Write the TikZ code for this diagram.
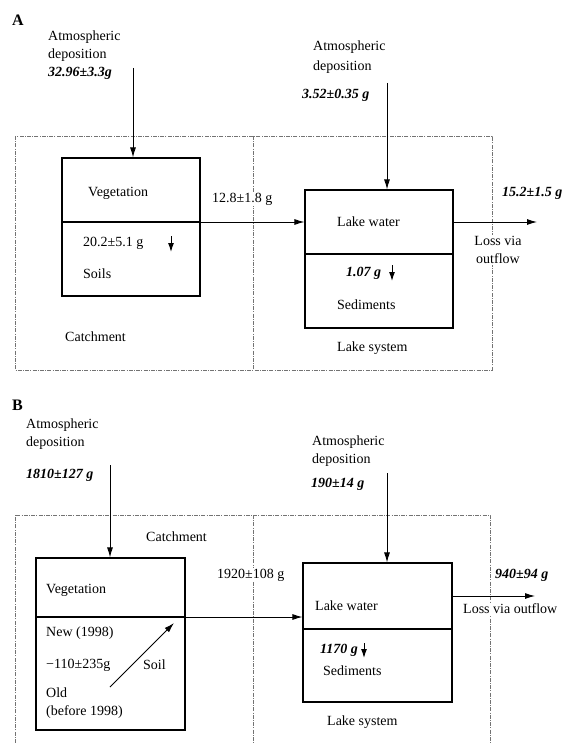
\documentclass[tikz,border=0pt]{standalone}
\usepackage{fontspec}
\setmainfont{Liberation Serif}
\usetikzlibrary{arrows.meta,positioning}

\tikzset{
  txt/.style={anchor=west, inner sep=0pt, align=left,
    font=\fontsize{14}{18}\selectfont},
  val/.style={txt, font=\fontsize{14}{18}\selectfont\bfseries\itshape},
  panel/.style={anchor=west, inner sep=0pt, font=\fontsize{16}{18}\selectfont\bfseries},
  pool/.style={draw, line width=1.1pt, inner sep=0pt},
  flow/.style={-{Latex[length=10pt,width=6pt]}, line width=0.9pt},
  sink/.style={-{Latex[length=9pt,width=6pt]}, line width=1pt},
  bound/.style={black!55, line width=0.5pt, dash pattern=on 4pt off 1.2pt on 1pt off 1.2pt},
  mask/.style={fill=white, inner sep=1pt}
}

\begin{document}
\begin{tikzpicture}[x=1pt, y=-1pt]
  \useasboundingbox (0,0) rectangle (568,743);

  % ---------- A ----------
  \draw[bound] (15,136) rectangle (492,370);
  \draw[bound] (253,136) -- (253,370);
  \node[panel] (labA) at (12,20) {A};

  \node[pool, minimum width=138, minimum height=138] (vegA) at (131,227) {};
  \node[pool, minimum width=148, minimum height=138] (lakeA) at (379,259) {};
  \coordinate (divA) at (0,222);
  \coordinate (divLA) at (0,254);
  \draw[line width=1.1pt] (vegA.west |- divA) -- (vegA.east |- divA);
  \draw[line width=1.1pt] (lakeA.west |- divLA) -- (lakeA.east |- divLA);

  \node[txt] (atmA) at (48,46) {Atmospheric\\deposition};
  \node[val] (inA) at (48,73) {32.96±3.3g};
  \coordinate (srcA) at (133,68);
  \draw[flow] (srcA) -- (srcA |- vegA.north);

  \node[txt] (atmLA) at (313,57) {Atmospheric\\[2pt]deposition};
  \node[val] (inLA) at (302,95) {3.52±0.35 g};
  \coordinate (srcLA) at (387,83);
  \draw[flow] (srcLA) -- (srcLA |- lakeA.north);

  \node[txt] (vegtA) at (88,193) {Vegetation};
  \node[txt] (retA) at (83,243) {20.2±5.1 g};
  \coordinate (sinkA) at (171,236);
  \draw[sink] (sinkA) -- ++(0,16);
  \node[txt] (soilA) at (83,274) {Soils};
  \node[txt] (catA) at (65,337) {Catchment};

  \node[txt, mask] (expA) at (211,199) {12.8±1.8 g};
  \draw[flow] (vegA.east |- divA) -- (lakeA.west |- divA);

  \node[txt] (watA) at (337,222) {Lake water};
  \node[val] (sedvA) at (346,273) {1.07 g};
  \coordinate (sinkLA) at (392,265);
  \draw[sink] (sinkLA) -- ++(0,16);
  \node[txt] (sedA) at (337,305) {Sediments};
  \node[txt] (sysA) at (337,348) {Lake system};

  \coordinate (outA) at (537,222);
  \draw[flow] (lakeA.east |- divA) -- (outA);
  \node[val] (outvA) at (502,193) {15.2±1.5 g};
  \node[txt, mask, align=center, anchor=center] (lossA) at (498,250) {Loss via\\outflow};

  % ---------- B ----------
  \draw[bound] (15,743) -- (15,515) -- (490,515) -- (490,743);
  \draw[bound] (253,515) -- (253,743);
  \node[panel] (labB) at (12,405) {B};

  \node[pool, minimum width=149, minimum height=172] (vegB) at (110.5,644) {};
  \node[pool, minimum width=149, minimum height=139] (lakeB) at (377.5,632.5) {};
  \coordinate (divB) at (0,617);
  \coordinate (divLB) at (0,629);
  \draw[line width=1.1pt] (vegB.west |- divB) -- (vegB.east |- divB);
  \draw[line width=1.1pt] (lakeB.west |- divLB) -- (lakeB.east |- divLB);

  \node[txt] (atmB) at (26,434) {Atmospheric\\deposition};
  \node[val] (inB) at (26,475) {1810±127 g};
  \coordinate (srcB) at (110,465);
  \draw[flow] (srcB) -- (srcB |- vegB.north);

  \node[txt] (atmLB) at (312,451) {Atmospheric\\deposition};
  \node[val] (inLB) at (311,484) {190±14 g};
  \coordinate (srcLB) at (387,473);
  \draw[flow] (srcLB) -- (srcLB |- lakeB.north);

  \node[txt] (catB) at (146,537) {Catchment};
  \node[txt] (vegtB) at (46,590) {Vegetation};
  \node[txt] (newB) at (46,633) {New (1998)};
  \node[txt] (retB) at (46,665) {−110±235g};
  \node[txt] (soilB) at (143,665) {Soil};
  \node[txt] (oldB) at (46,703) {Old\\(before 1998)};
  \coordinate (oldpt) at (110,687);
  \coordinate (newpt) at (174,623);
  \draw[flow] (oldpt) -- (newpt);

  \node[txt, mask] (expB) at (216,575) {1920±108 g};
  \draw[flow] (vegB.east |- divB) -- (lakeB.west |- divB);

  \node[txt] (watB) at (315,606) {Lake water};
  \node[val] (sedvB) at (320,650) {1170 g};
  \coordinate (sinkLB) at (364,643);
  \draw[sink] (sinkLB) -- ++(0,15);
  \node[txt] (sedB) at (323,671) {Sediments};
  \node[txt] (sysB) at (327,722) {Lake system};

  \coordinate (outB) at (535,596);
  \draw[flow] (lakeB.east |- 0,596) -- (outB);
  \node[val] (outvB) at (495,575) {940±94 g};
  \node[txt, mask] (lossB) at (462,609) {Loss via outflow};
\end{tikzpicture}
\end{document}
